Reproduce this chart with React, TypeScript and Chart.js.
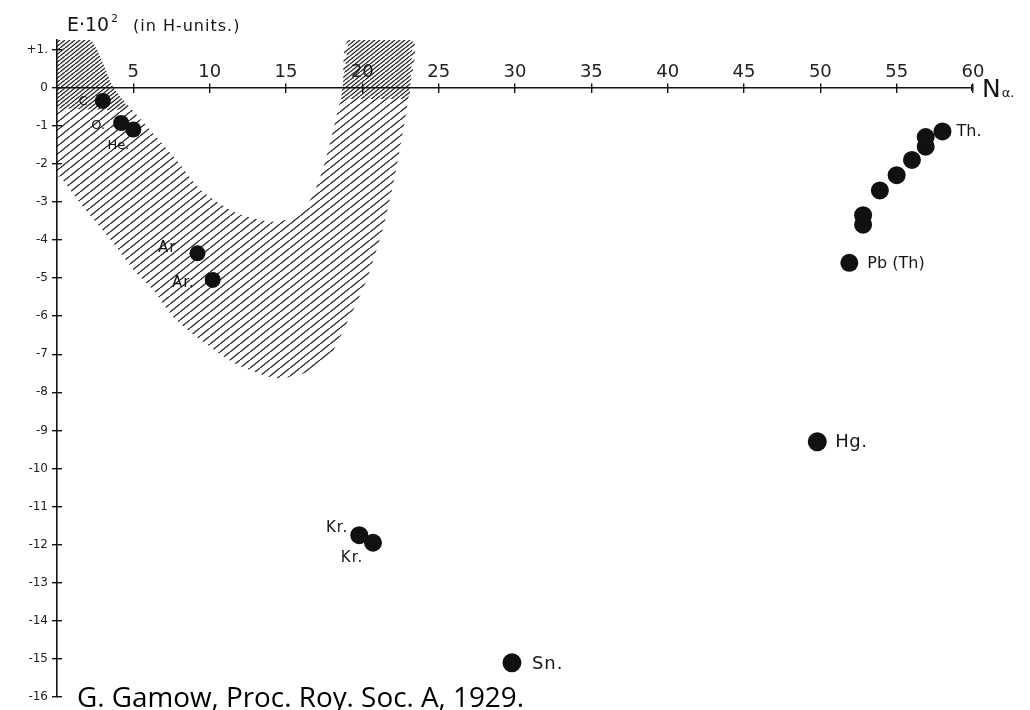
import { useEffect, useRef } from "react";
import { Chart, registerables } from "chart.js";

Chart.register(...registerables);

// ---------- data ----------
const xTickValues = [5, 10, 15, 20, 25, 30, 35, 40, 45, 50, 55, 60];
const yTickValues = [1, 0, -1, -2, -3, -4, -5, -6, -7, -8, -9, -10, -11, -12, -13, -14, -15, -16];
const yTickLabels = ["+1.", "0", "-1", "-2", "-3", "-4", "-5", "-6", "-7", "-8", "-9", "-10", "-11", "-12", "-13", "-14", "-15", "-16"];

// number of alpha particles (N_alpha) and energy E·10^2 (H-units)
const nAlpha = [3, 4.2, 5, 9.2, 10.2, 19.8, 20.7, 29.8, 49.8, 51.9, 52.8, 52.8, 53.9, 55, 56, 56.9, 56.9, 58];
const energy = [-0.35, -0.93, -1.1, -4.35, -5.05, -11.75, -11.95, -15.1, -9.3, -4.6, -3.6, -3.35, -2.7, -2.3, -1.9, -1.55, -1.3, -1.15];
const pointLabels = ["C.", "O.", "He.", "Ar", "Ar.", "Kr.", "Kr.", "Sn.", "Hg.", "Pb (Th)", "", "", "", "", "", "", "", "Th."];

// hatched band (region of expected values)
const bandN = [0, 2.2, 3.7, 5.5, 7.8, 9.4, 11.7, 14.0, 15.4, 16.6, 17.4, 18.1, 18.7, 19.1, 23.3, 23.1, 22.3, 21.5, 20.3, 19.0, 17.7, 15.9, 14.2, 11.6, 9.4, 7.6, 6.3, 5.0, 3.5, 1.7, 0.2, 0];
const bandE = [1.25, 1.25, 0, -0.84, -1.89, -2.68, -3.28, -3.52, -3.42, -2.94, -2.15, -1.1, -0.05, 1.25, 1.25, -0.05, -1.97, -3.47, -5.04, -6.17, -7.15, -7.54, -7.62, -7.23, -6.62, -6.02, -5.31, -4.78, -3.99, -3.13, -2.34, -2.34];
const denseLeftN = [0, 2.2, 3.7, 4.6, 0];
const denseLeftE = [1.25, 1.25, 0, -0.55, -0.55];
const denseRightN = [19.1, 23.3, 23.1, 18.6];
const denseRightE = [1.25, 1.25, -0.3, -0.3];

const xAxisName = "N";
const xAxisSub = "α.";
const yTitleMain = "E·10";
const yTitleSup = "2";
const yTitleRest = "(in H-units.)";
const caption = "G. Gamow, Proc. Roy. Soc. A, 1929.";

// label placement (style only)
const labelStyles = [
  { dx: -11, dy: 1, align: "right", size: 13, sp: 0 },
  { dx: -16, dy: 3, align: "right", size: 13, sp: 0 },
  { dx: -15, dy: 16, align: "center", size: 13, sp: 0 },
  { dx: -21, dy: -5, align: "right", size: 15, sp: 1 },
  { dx: -18, dy: 3, align: "right", size: 15, sp: 1 },
  { dx: -11, dy: -7, align: "right", size: 15, sp: 1 },
  { dx: -21, dy: 15, align: "center", size: 15, sp: 1 },
  { dx: 20, dy: 2, align: "left", size: 18, sp: 1 },
  { dx: 18, dy: 1, align: "left", size: 18, sp: 0.5 },
  { dx: 18, dy: 1, align: "left", size: 16, sp: 0 },
  null, null, null, null, null, null, null,
  { dx: 14, dy: 0, align: "left", size: 16, sp: 0 },
];
const pointRadii = [8, 8, 8, 8, 8, 9, 9, 9.5, 9.5, 9, 9, 9, 9, 9, 9, 9, 9, 9];

const HAND = '"DejaVu Sans", sans-serif';

const textPlugin = {
  id: "gamowText",
  afterDatasetsDraw(chart: any) {
    const { ctx, scales } = chart;
    const x = scales.x;
    const y = scales.y;
    ctx.save();
    ctx.fillStyle = "#151515";
    ctx.textBaseline = "middle";
    pointLabels.forEach((txt, i) => {
      const st = labelStyles[i];
      if (!txt || !st) return;
      ctx.font = `${st.size}px ${HAND}`;
      (ctx as any).letterSpacing = `${st.sp}px`;
      ctx.textAlign = st.align;
      ctx.fillText(txt, x.getPixelForValue(nAlpha[i]) + st.dx, y.getPixelForValue(energy[i]) + st.dy);
    });
    (ctx as any).letterSpacing = "0px";

    // x-axis name at the end of the axis
    const ax = x.getPixelForValue(60);
    const ay = y.getPixelForValue(0);
    ctx.textAlign = "left";
    ctx.textBaseline = "alphabetic";
    ctx.font = `25px ${HAND}`;
    ctx.fillText(xAxisName, ax + 9, ay + 9);
    const nW = ctx.measureText(xAxisName).width;
    ctx.font = `13px ${HAND}`;
    ctx.fillText(xAxisSub, ax + 10 + nW, ay + 9);

    // y-axis title
    const tx = x.getPixelForValue(0) + 10;
    const ty = chart.chartArea.top - 9;
    ctx.font = `19px ${HAND}`;
    ctx.fillText(yTitleMain, tx, ty, 42);
    const w1 = Math.min(42, ctx.measureText(yTitleMain).width);
    ctx.font = `11px ${HAND}`;
    ctx.fillText(yTitleSup, tx + w1 + 2, ty - 9);
    ctx.font = `16px ${HAND}`;
    (ctx as any).letterSpacing = "1px";
    ctx.fillText(yTitleRest, tx + 66, ty);
    (ctx as any).letterSpacing = "0px";

    // caption
    ctx.fillStyle = "#000";
    ctx.font = '28px "Open Sans", sans-serif';
    ctx.fillText(caption, x.getPixelForValue(0) + 20, 707, 447);
    ctx.restore();
  },
};

function makeHatch(target: HTMLCanvasElement, shift: number) {
  const w = 10;
  const h = 8;
  const tile = document.createElement("canvas");
  tile.width = w;
  tile.height = h;
  const t = tile.getContext("2d")!;
  t.strokeStyle = "rgba(20,20,20,0.92)";
  t.lineWidth = 1.35;
  for (const k of [-1, 0, 1]) {
    t.beginPath();
    t.moveTo(k * w + shift * w, h);
    t.lineTo(k * w + shift * w + w, 0);
    t.stroke();
  }
  return target.getContext("2d")!.createPattern(tile, "repeat");
}

export default function App() {
  const ref = useRef<HTMLCanvasElement | null>(null);
  useEffect(() => {
    const canvas = ref.current!;
    const hatch = makeHatch(canvas, 0);
    const hatch2 = makeHatch(canvas, 0.5);
    const toPts = (xs: number[], ys: number[]) => xs.map((v, i) => ({ x: v, y: ys[i] }));
    const setX = (s: any) => { s.ticks = xTickValues.map((v) => ({ value: v })); };
    const setY = (s: any) => { s.ticks = yTickValues.map((v) => ({ value: v })); };
    const gridBase = { drawOnChartArea: false, color: "#151515", lineWidth: 1.4 };

    const chart = new Chart(canvas, {
      type: "scatter",
      data: {
        datasets: [
          {
            type: "line",
            data: toPts(bandN, bandE),
            fill: "shape",
            backgroundColor: hatch,
            borderWidth: 0,
            pointRadius: 0,
            tension: 0.25,
            order: 2,
          } as any,
          {
            type: "line",
            data: toPts(denseLeftN, denseLeftE),
            fill: "shape",
            backgroundColor: hatch2,
            borderWidth: 0,
            pointRadius: 0,
            tension: 0.2,
            order: 1,
          } as any,
          {
            type: "line",
            data: toPts(denseRightN, denseRightE),
            fill: "shape",
            backgroundColor: hatch2,
            borderWidth: 0,
            pointRadius: 0,
            tension: 0,
            order: 1,
          } as any,
          {
            type: "scatter",
            data: toPts(nAlpha, energy),
            backgroundColor: "#111",
            borderWidth: 0,
            pointRadius: pointRadii,
            order: 0,
          },
          {
            type: "scatter",
            data: [{ x: 60, y: 0 }],
            pointStyle: "triangle",
            rotation: 90,
            pointRadius: 4,
            backgroundColor: "#111",
            borderWidth: 0,
            order: 0,
          } as any,
        ],
      },
      options: {
        animation: false,
        responsive: false,
        events: [],
        layout: { padding: { left: 17, right: 57, top: 40, bottom: 13 } },
        plugins: { legend: { display: false }, tooltip: { enabled: false } },
        scales: {
          x: {
            type: "linear",
            min: 0,
            max: 60,
            position: { y: 0 } as any,
            afterBuildTicks: setX,
            ticks: { autoSkip: false, maxRotation: 0, padding: -21, color: "#222", font: { family: HAND, size: 18 } },
            grid: { ...gridBase, tickLength: -5 },
            border: { display: true, color: "#151515", width: 1.6 },
          },
          x2: {
            type: "linear",
            axis: "x",
            min: 0,
            max: 60,
            position: { y: 0 } as any,
            afterBuildTicks: setX,
            ticks: { display: false },
            grid: { ...gridBase, tickLength: 5 },
            border: { display: false },
          } as any,
          y: {
            type: "linear",
            min: -16,
            max: 1.25,
            position: "left",
            afterBuildTicks: setY,
            afterFit: (s: any) => { s.width = 40; },
            ticks: {
              autoSkip: false,
              padding: 4,
              color: "#222",
              font: { family: HAND, size: 12 },
              callback: (_v: any, i: number) => yTickLabels[i],
            },
            grid: { ...gridBase, tickLength: 5 },
            border: { display: true, color: "#151515", width: 1.6 },
          },
          y2: {
            type: "linear",
            axis: "y",
            min: -16,
            max: 1.25,
            position: { x: 0 } as any,
            afterBuildTicks: setY,
            ticks: { display: false },
            grid: { ...gridBase, tickLength: -5 },
            border: { display: false },
          } as any,
        },
      },
      plugins: [textPlugin],
    } as any);
    return () => chart.destroy();
  }, []);

  return (
    <div style={{ position: "absolute", left: 0, top: 0, width: 1030, height: 710, background: "#fff" }}>
      <canvas ref={ref} width={1030} height={710} style={{ width: 1030, height: 710, display: "block" }} />
    </div>
  );
}
